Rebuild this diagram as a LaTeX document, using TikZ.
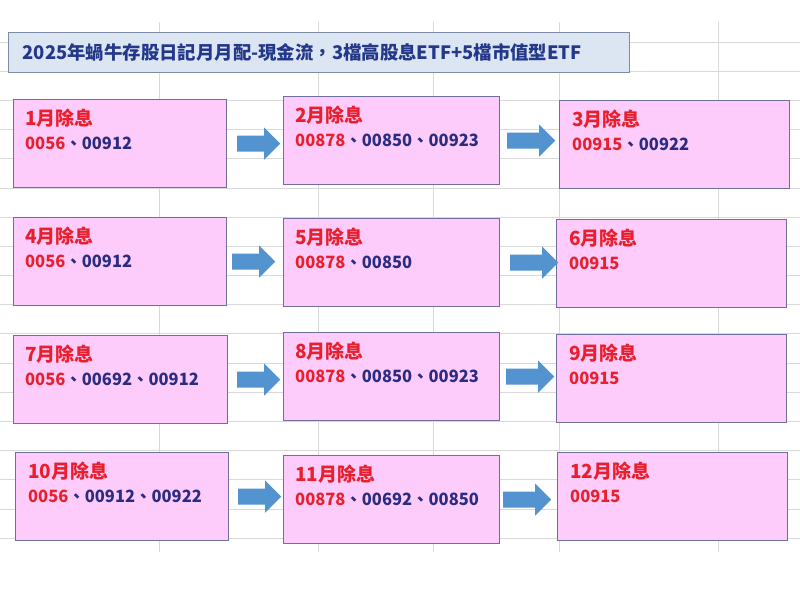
\documentclass[tikz,border=0pt]{standalone}
\usepackage{fontspec}
\setmainfont{Noto Sans CJK TC}[Script=CJK,Language=Chinese Traditional]
\usepackage{tikz}
\definecolor{gridgray}{HTML}{D9D9D9}
\definecolor{boxpink}{HTML}{FDCCFB}
\definecolor{boxline}{HTML}{6E6F9C}
\definecolor{titlefill}{HTML}{DCE5F2}
\definecolor{titleline}{HTML}{7F8CA6}
\definecolor{titletext}{HTML}{24388A}
\definecolor{codered}{HTML}{E8202E}
\definecolor{codeblue}{HTML}{2A2C82}
\definecolor{arrowblue}{HTML}{5393CF}
\def\gridrow#1{(0,#1) -- (800,#1)}
\def\gridcol#1{(#1,22) -- (#1,552)}
\def\rarrow#1{++(0,-8) -- ++(#1,0) -- ++(0,-8) -- ++(16,16) -- ++(-16,16) -- ++(0,-8) -- ++(-#1,0) -- cycle}
\def\rc#1{\textcolor{codered}{#1}}
\def\bc#1{\textcolor{codeblue}{#1}}
\tikzset{
  gridline/.style={draw=gridgray, line width=0.8pt},
  mbox/.style={draw=boxline, fill=boxpink, line width=1.2pt, inner sep=0pt,
    minimum height=88pt, anchor=north west},
  mtitle/.style={anchor=west, inner sep=0pt, text=codered,
    font=\fontsize{19}{21}\selectfont\bfseries},
  mcode/.style={anchor=west, inner sep=0pt, text=codeblue,
    font=\fontsize{16.5}{19}\selectfont\bfseries},
  titlebox/.style={draw=titleline, fill=titlefill, line width=1.2pt, anchor=north west,
    text width=593pt, inner xsep=14pt, inner ysep=0pt, minimum height=40pt, align=left,
    text=titletext, font=\fontsize{18.4}{20}\selectfont\bfseries},
  barrow/.style={fill=arrowblue}
}
\begin{document}
\begin{tikzpicture}[x=1pt,y=-1pt]
\useasboundingbox[fill=white] (0,0) rectangle (800,590);
% spreadsheet grid
\draw[gridline] \gridrow{42} \gridrow{71.2} \gridrow{100.4} \gridrow{129.5}
  \gridrow{158.7} \gridrow{187.9} \gridrow{217.1} \gridrow{246.3} \gridrow{275.4}
  \gridrow{304.6} \gridrow{333.8} \gridrow{363} \gridrow{392.2} \gridrow{421.3}
  \gridrow{450.5} \gridrow{479.7} \gridrow{508.9} \gridrow{538.1};
\draw[gridline] \gridcol{159} \gridcol{318} \gridcol{433} \gridcol{559} \gridcol{718};

\node[titlebox] (title) at (8,32) {2025年蝸牛存股日記月月配-現金流，3檔高股息ETF+5檔市值型ETF};

\node[mbox, minimum width=213pt] (m1) at (13,99) {};
\node[mbox, minimum width=216pt] (m2) at (283,96) {};
\node[mbox, minimum width=230pt] (m3) at (559,100) {};
\node[mbox, minimum width=213pt] (m4) at (13,217) {};
\node[mbox, minimum width=216pt] (m5) at (283,218) {};
\node[mbox, minimum width=230pt] (m6) at (556,219) {};
\node[mbox, minimum width=214pt] (m7) at (13,335) {};
\node[mbox, minimum width=216pt] (m8) at (283,332) {};
\node[mbox, minimum width=230pt] (m9) at (556,334) {};
\node[mbox, minimum width=213pt] (m10) at (15,452) {};
\node[mbox, minimum width=216pt] (m11) at (283,455) {};
\node[mbox, minimum width=230pt] (m12) at (557,452) {};

\node[mtitle] (t1) at ([shift={(12,19)}]m1.north west) {1月除息};
\node[mcode] (c1) at ([shift={(12,44)}]m1.north west) {\rc{0056}、\bc{00912}};
\node[mtitle] (t2) at ([shift={(12,19)}]m2.north west) {2月除息};
\node[mcode] (c2) at ([shift={(12,44)}]m2.north west) {\rc{00878}、\bc{00850}、\bc{00923}};
\node[mtitle] (t3) at ([shift={(13,19)}]m3.north west) {3月除息};
\node[mcode] (c3) at ([shift={(13,44)}]m3.north west) {\rc{00915}、\bc{00922}};
\node[mtitle] (t4) at ([shift={(12,19)}]m4.north west) {4月除息};
\node[mcode] (c4) at ([shift={(12,44)}]m4.north west) {\rc{0056}、\bc{00912}};
\node[mtitle] (t5) at ([shift={(12,19)}]m5.north west) {5月除息};
\node[mcode] (c5) at ([shift={(12,44)}]m5.north west) {\rc{00878}、\bc{00850}};
\node[mtitle] (t6) at ([shift={(13,19)}]m6.north west) {6月除息};
\node[mcode] (c6) at ([shift={(13,44)}]m6.north west) {\rc{00915}};
\node[mtitle] (t7) at ([shift={(12,19)}]m7.north west) {7月除息};
\node[mcode] (c7) at ([shift={(12,44)}]m7.north west) {\rc{0056}、\bc{00692}、\bc{00912}};
\node[mtitle] (t8) at ([shift={(12,19)}]m8.north west) {8月除息};
\node[mcode] (c8) at ([shift={(12,44)}]m8.north west) {\rc{00878}、\bc{00850}、\bc{00923}};
\node[mtitle] (t9) at ([shift={(13,19)}]m9.north west) {9月除息};
\node[mcode] (c9) at ([shift={(13,44)}]m9.north west) {\rc{00915}};
\node[mtitle] (t10) at ([shift={(13,19)}]m10.north west) {10月除息};
\node[mcode] (c10) at ([shift={(13,44)}]m10.north west) {\rc{0056}、\bc{00912}、\bc{00922}};
\node[mtitle] (t11) at ([shift={(12,19)}]m11.north west) {11月除息};
\node[mcode] (c11) at ([shift={(12,44)}]m11.north west) {\rc{00878}、\bc{00692}、\bc{00850}};
\node[mtitle] (t12) at ([shift={(13,19)}]m12.north west) {12月除息};
\node[mcode] (c12) at ([shift={(13,44)}]m12.north west) {\rc{00915}};

\fill[barrow] ([xshift=10pt]m1.east) \rarrow{27};
\fill[barrow] ([xshift=7pt]m2.east) \rarrow{32};
\fill[barrow] ([xshift=5pt]m4.east) \rarrow{27};
\fill[barrow] ([xshift=10pt]m5.east) \rarrow{32};
\fill[barrow] ([xshift=9pt]m7.east) \rarrow{27};
\fill[barrow] ([xshift=6pt]m8.east) \rarrow{32};
\fill[barrow] ([xshift=9pt]m10.east) \rarrow{27};
\fill[barrow] ([xshift=3pt]m11.east) \rarrow{32};
\end{tikzpicture}
\end{document}
